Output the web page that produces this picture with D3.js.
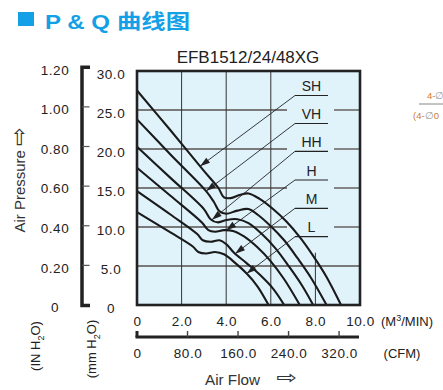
<!DOCTYPE html>
<html><head><meta charset="utf-8">
<script src="https://cdn.jsdelivr.net/npm/d3@7"></script>
<style>
body{margin:0;background:#fff;}
svg{display:block;font-family:"Liberation Sans",Arial,sans-serif;}
</style>
</head><body>
<svg id="c" width="443" height="390"></svg>
<script>
// ---------- data ----------
const flowTicks = [0, 2, 4, 6, 8, 10];
const flowLabels = ["0", "2.0", "4.0", "6.0", "8.0", "10.0"];
const cfmTicks = [0, 80, 160, 240, 320];
const cfmLabels = ["0", "80.0", "160.0", "240.0", "320.0"];
const mmTicks = [0, 5, 10, 15, 20, 25, 30];
const mmLabels = ["0", "5.0", "10.0", "15.0", "20.0", "25.0", "30.0"];
const inTicks = [0, 0.2, 0.4, 0.6, 0.8, 1.0, 1.2];
const inLabels = ["0", "0.20", "0.40", "0.60", "0.80", "1.00", "1.20"];
const seriesNames = ["SH", "VH", "HH", "H", "M", "L"];
// [air flow M3/min, static pressure mmH2O]
const SH = [[0,27.5],[1.5,22.4],[3.0,17.2],[3.65,15.0],[3.9,13.8],[4.2,13.7],[4.6,14.1],[5.0,14.3],[5.5,13.6],[6.1,12.3],[6.7,10.7],[7.3,8.7],[7.9,6.3],[8.5,3.6],[9.15,0]];
const VH = [[0,23.8],[1.5,19.3],[3.1,14.6],[3.45,13.2],[3.7,12.0],[4.0,11.7],[4.5,12.1],[5.0,12.3],[5.4,11.6],[6.0,10.1],[6.6,8.3],[7.2,6.0],[7.8,3.5],[8.5,0]];
const HH = [[0,20.3],[1.5,16.3],[3.0,12.3],[3.3,11.0],[3.6,10.6],[4.0,10.9],[4.5,11.0],[5.0,10.5],[5.6,9.1],[6.2,7.3],[6.8,5.0],[7.4,2.5],[7.9,0]];
const H  = [[0,17.6],[1.5,14.0],[2.9,10.6],[3.2,9.6],[3.5,9.4],[3.9,9.6],[4.3,9.5],[4.8,8.8],[5.4,7.4],[6.0,5.6],[6.6,3.3],[7.3,0]];
const M  = [[0,14.6],[1.5,11.6],[2.7,9.1],[2.95,8.3],[3.3,8.1],[3.7,8.3],[4.0,7.8],[4.35,6.7],[4.9,5.4],[5.5,3.9],[6.1,2.1],[6.6,0]];
const L  = [[0,11.9],[1.5,9.3],[2.5,7.5],[2.75,6.8],[3.1,6.6],[3.5,6.8],[3.9,6.5],[4.4,5.4],[4.93,4.0],[5.4,2.4],[5.9,0]];
const seriesData = [SH, VH, HH, H, M, L];
const arrowFlow = [2.83, 3.1, 3.36, 4.0, 4.4, 4.92];
const CFM_TO_M3MIN = 0.0283168;
const MM_PER_IN = 25.4;

// ---------- layout ----------
const svg = d3.select("#c");
const x = d3.scaleLinear().domain([0, 10]).range([137, 360]);
const y = d3.scaleLinear().domain([0, 30]).range([305, 71]);
const yIn = v => y(v * MM_PER_IN);
const ink = "#222";

// title
const blue = "#14a0e6";
svg.append("rect").attr("x", 18).attr("y", 12).attr("width", 16).attr("height", 14).attr("fill", blue);
svg.append("text").attr("x", 45).attr("y", 28.5).attr("fill", blue)
  .attr("font-size", 20).attr("font-weight", "bold")
  .attr("textLength", 65).attr("lengthAdjust", "spacingAndGlyphs").text("P & Q");
svg.append("text").attr("x", 117).attr("y", 29).attr("fill", blue)
  .attr("font-size", 20).attr("font-weight", "bold")
  .attr("font-family", "'Noto Sans CJK SC',sans-serif")
  .attr("textLength", 73).attr("lengthAdjust", "spacingAndGlyphs").text("曲线图");

// subtitle
svg.append("text").attr("x", 248).attr("y", 62.5).attr("text-anchor", "middle")
  .attr("font-size", 17).attr("fill", ink).text("EFB1512/24/48XG");

// plot background
svg.append("rect").attr("x", x(0)).attr("y", y(30)).attr("width", x(10) - x(0)).attr("height", y(0) - y(30))
  .attr("fill", "#e0f3fb");

// horizontal grid lines (with gaps where labels sit)
const gapL = 287, gapR = 334;
mmTicks.filter(v => v > 0 && v < 30).forEach(v => {
  if (v >= 10) {
    svg.append("line").attr("x1", x(0)).attr("x2", gapL).attr("y1", y(v)).attr("y2", y(v))
      .attr("stroke", "#7a7a7a").attr("stroke-width", 1.8);
    svg.append("line").attr("x1", gapR).attr("x2", x(10)).attr("y1", y(v)).attr("y2", y(v))
      .attr("stroke", "#7a7a7a").attr("stroke-width", 1.8);
  } else {
    svg.append("line").attr("x1", x(0)).attr("x2", x(10)).attr("y1", y(v)).attr("y2", y(v))
      .attr("stroke", "#7a7a7a").attr("stroke-width", 1.8);
  }
});
// vertical grid lines
flowTicks.filter(v => v > 0 && v < 8).forEach(v => {
  svg.append("line").attr("x1", x(v)).attr("x2", x(v)).attr("y1", y(30)).attr("y2", y(0))
    .attr("stroke", "#333").attr("stroke-width", 1);
});
svg.append("line").attr("x1", x(8)).attr("x2", x(8)).attr("y1", y(6.7)).attr("y2", y(0))
  .attr("stroke", "#333").attr("stroke-width", 1);

// curves
const line = d3.line().x(d => x(d[0])).y(d => y(d[1])).curve(d3.curveCatmullRom.alpha(0.5));
svg.append("g").selectAll("path").data(seriesData).join("path")
  .attr("d", line).attr("fill", "none").attr("stroke", "#1a1a1a").attr("stroke-width", 2.1)
  .attr("stroke-linejoin", "round");

// plot border
svg.append("rect").attr("x", x(0)).attr("y", y(30)).attr("width", x(10) - x(0)).attr("height", y(0) - y(30))
  .attr("fill", "none").attr("stroke", ink).attr("stroke-width", 2.6);

// labels with leaders and arrows
function interp(s, xv) {
  for (let i = 1; i < s.length; i++) {
    if (xv <= s[i][0]) {
      const t = (xv - s[i-1][0]) / (s[i][0] - s[i-1][0]);
      return s[i-1][1] + t * (s[i][1] - s[i-1][1]);
    }
  }
  return s[s.length - 1][1];
}
const ulY = [95.5, 123.5, 151.3, 180, 208.3, 236.7];
const ulX1 = 295, ulX2 = 328;
seriesNames.forEach((n, i) => {
  const uy = ulY[i];
  svg.append("text").attr("x", 311.5).attr("y", uy - 4.5).attr("text-anchor", "middle")
    .attr("font-size", 14).attr("fill", ink).text(n);
  svg.append("line").attr("x1", ulX1).attr("x2", ulX2).attr("y1", uy).attr("y2", uy)
    .attr("stroke", ink).attr("stroke-width", 1.2);
  const tx = x(arrowFlow[i]), ty = y(interp(seriesData[i], arrowFlow[i]));
  svg.append("line").attr("x1", ulX1).attr("y1", uy).attr("x2", tx).attr("y2", ty)
    .attr("stroke", ink).attr("stroke-width", 0.9);
  const dx = tx - ulX1, dy = ty - uy, len = Math.hypot(dx, dy);
  const ux = dx / len, uyy = dy / len, nx = -uyy, ny = ux;
  const Lh = 10, W = 3.2;
  const bx = tx - ux * Lh, by = ty - uyy * Lh;
  svg.append("path").attr("d", `M${tx},${ty}L${bx + nx * W},${by + ny * W}L${bx - nx * W},${by - ny * W}Z`)
    .attr("fill", ink);
});

// x axis (M3/MIN)
const gx = svg.append("g").attr("transform", `translate(0,${y(0)})`)
  .call(d3.axisBottom(x).tickValues(flowTicks).tickFormat((d, i) => flowLabels[i]).tickSize(0));
gx.select(".domain").remove();
gx.selectAll("text").attr("y", 21).attr("dy", null).attr("font-size", 13.5)
  .attr("fill", ink).attr("font-family", "'Liberation Sans',Arial,sans-serif").attr("letter-spacing", 0.6);
const unit1 = svg.append("text").attr("x", 407).attr("y", 326).attr("text-anchor", "middle")
  .attr("font-size", 13).attr("fill", ink);
unit1.append("tspan").text("(M");
unit1.append("tspan").attr("dy", -5).attr("font-size", 9).text("3");
unit1.append("tspan").attr("dy", 5).text("/MIN)");

// CFM axis
const xc = v => x(v * CFM_TO_M3MIN);
const cfmY = 337;
svg.append("line").attr("x1", 135.5).attr("x2", 359).attr("y1", cfmY).attr("y2", cfmY)
  .attr("stroke", ink).attr("stroke-width", 3);
svg.append("line").attr("x1", 137).attr("x2", 137).attr("y1", 331).attr("y2", cfmY)
  .attr("stroke", ink).attr("stroke-width", 3);
cfmTicks.filter(v => v > 0).forEach(v => {
  svg.append("line").attr("x1", xc(v)).attr("x2", xc(v)).attr("y1", 331).attr("y2", cfmY)
    .attr("stroke", "#444").attr("stroke-width", 1.4);
});
const gc = svg.append("g").attr("transform", `translate(0,${cfmY})`)
  .call(d3.axisBottom(d3.scaleLinear().domain([0, 10 / CFM_TO_M3MIN]).range([137, 360]))
    .tickValues(cfmTicks).tickFormat((d, i) => cfmLabels[i]).tickSize(0));
gc.select(".domain").remove();
gc.selectAll("text").attr("y", 21).attr("dy", null).attr("font-size", 13.5)
  .attr("fill", ink).attr("font-family", "'Liberation Sans',Arial,sans-serif").attr("letter-spacing", 0.6);
svg.append("text").attr("x", 402).attr("y", 358).attr("text-anchor", "middle")
  .attr("font-size", 13).attr("fill", ink).text("(CFM)");

// Air Flow
svg.append("text").attr("x", 205).attr("y", 385).attr("font-size", 15).attr("fill", "#333")
  .attr("textLength", 55).attr("lengthAdjust", "spacingAndGlyphs").text("Air Flow");
svg.append("text").attr("x", 276).attr("y", 384).attr("font-size", 19).attr("fill", "#333")
  .attr("font-family", "'DejaVu Sans',sans-serif")
  .attr("textLength", 21).attr("lengthAdjust", "spacingAndGlyphs").text("⇨");

// mm H2O axis labels
const gm = svg.append("g").attr("transform", "translate(111,0)")
  .call(d3.axisLeft(y).tickValues(mmTicks).tickFormat((d, i) => mmLabels[i]).tickSize(0));
gm.select(".domain").remove();
gm.selectAll("text").attr("x", 0).attr("dy", "0.55em").attr("text-anchor", "middle").attr("font-size", 13.5)
  .attr("fill", ink).attr("font-family", "'Liberation Sans',Arial,sans-serif").attr("letter-spacing", 0.6);

// IN H2O bracket axis
const inScale = d3.scaleLinear().domain([0, 1.2]).range([y(0), yIn(1.2)]);
svg.append("path").attr("d", `M90,${inScale(1.2)}H82V${inScale(0) + 0.5}H90`)
  .attr("fill", "none").attr("stroke", ink).attr("stroke-width", 3.5);
inTicks.filter(v => v > 0 && v < 1.2).forEach(v => {
  svg.append("line").attr("x1", 82).attr("x2", 89.5).attr("y1", inScale(v)).attr("y2", inScale(v))
    .attr("stroke", "#555").attr("stroke-width", 1.2);
});
const gi = svg.append("g").attr("transform", "translate(55,0)")
  .call(d3.axisLeft(inScale).tickValues(inTicks).tickFormat((d, i) => inLabels[i]).tickSize(0));
gi.select(".domain").remove();
gi.selectAll("text").attr("x", 0).attr("dy", "0.5em").attr("text-anchor", "middle").attr("font-size", 13.5)
  .attr("fill", ink).attr("font-family", "'Liberation Sans',Arial,sans-serif").attr("letter-spacing", 0.6);

// rotated titles
const ap = svg.append("text").attr("transform", "translate(25,180) rotate(-90)").attr("text-anchor", "middle")
  .attr("font-size", 15).attr("fill", "#333");
ap.append("tspan").text("Air Pressure ");
ap.append("tspan").attr("font-family", "'DejaVu Sans',sans-serif").attr("font-size", 22).attr("dy", 1).text("⇨");

function subLabel(cx, cy, pre) {
  const t = svg.append("text").attr("transform", `translate(${cx},${cy}) rotate(-90)`)
    .attr("text-anchor", "middle").attr("font-size", 13).attr("fill", ink);
  t.append("tspan").text(pre + " H");
  t.append("tspan").attr("dy", 3.5).attr("font-size", 9).text("2");
  t.append("tspan").attr("dy", -3.5).text("O)");
}
subLabel(40, 346, "(IN");
subLabel(96, 349, "(mm");

// right-side fragment
const orange = "#d07a2a";
const f1 = svg.append("text").attr("x", 427).attr("y", 99).attr("font-size", 9.5);
f1.append("tspan").attr("fill", orange).text("4-");
f1.append("tspan").attr("fill", "#999").text("∅");
svg.append("line").attr("x1", 419).attr("x2", 443).attr("y1", 104).attr("y2", 104)
  .attr("stroke", "#888").attr("stroke-width", 1);
const f2 = svg.append("text").attr("x", 413).attr("y", 118.5).attr("font-size", 9.5);
f2.append("tspan").attr("fill", orange).text("(4-");
f2.append("tspan").attr("fill", "#999").text("∅");
f2.append("tspan").attr("fill", orange).text("0");
</script>
</body></html>
